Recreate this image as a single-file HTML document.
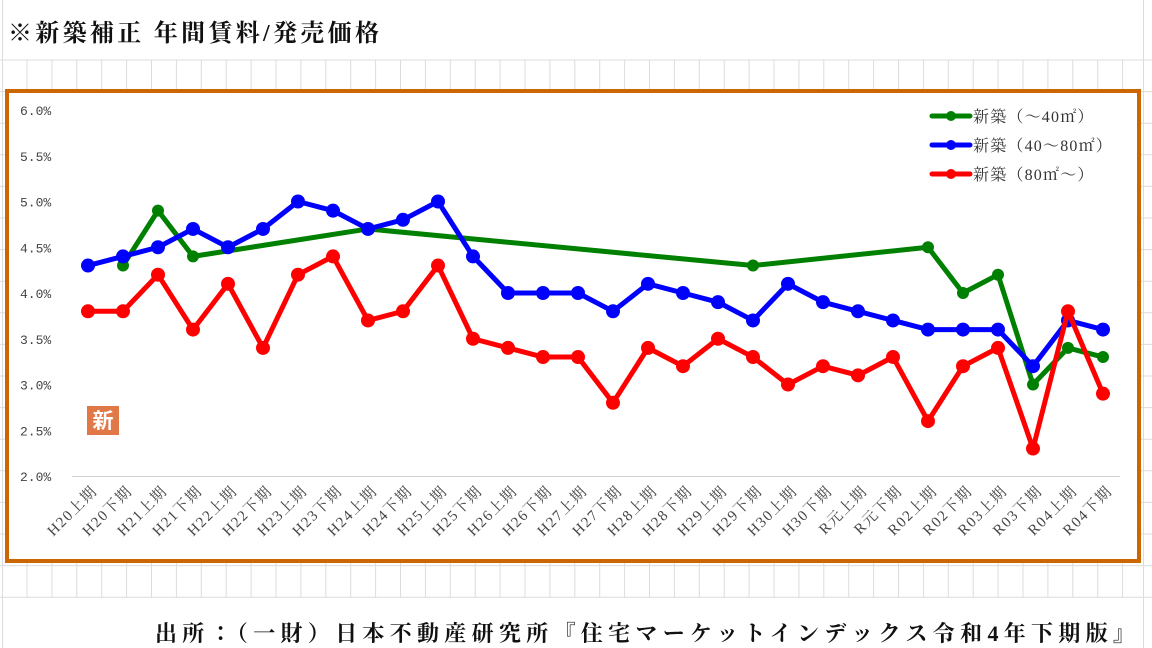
<!DOCTYPE html>
<html><head><meta charset="utf-8"><style>
body{margin:0;width:1152px;height:648px;overflow:hidden;background:#fff;position:relative;font-family:"Liberation Serif","Noto Serif CJK JP",serif}
.t{position:absolute;font-weight:bold;color:#111;white-space:nowrap}
</style></head><body>
<svg width="1152" height="648" style="position:absolute;left:0;top:0" id="s">
<g stroke="#dcdcdc" stroke-width="1" id="grid"></g>
<rect x="7" y="91" width="1132" height="470" fill="#fff" stroke="#CC6600" stroke-width="4"/>
<line x1="72" y1="476.5" x2="1120" y2="476.5" stroke="#d0d0d0" stroke-width="1"/>
<g id="ylab" font-family="Liberation Mono, monospace" font-size="13" fill="#444"></g>
<g id="xlab" font-family="Liberation Serif, Noto Serif CJK JP, serif" font-size="15" fill="#444" letter-spacing="1.5"></g>
<g id="ser"></g>
<rect x="87" y="406" width="32" height="29" fill="#E07848"/>
<text x="103" y="428" font-size="21" font-weight="bold" fill="#fff" text-anchor="middle" font-family="Noto Sans CJK JP, sans-serif">新</text>
<g font-family="Liberation Serif, Noto Serif CJK JP, serif" font-size="16" fill="#333" letter-spacing="1.2">
<line x1="932" y1="116" x2="970" y2="116" stroke="#008000" stroke-width="5" stroke-linecap="round"/><circle cx="951" cy="116" r="5" fill="#008000"/>
<text x="973" y="122">新築（～40㎡）</text>
<line x1="932" y1="145" x2="970" y2="145" stroke="#0000ff" stroke-width="5" stroke-linecap="round"/><circle cx="951" cy="145" r="5" fill="#0000ff"/>
<text x="973" y="151">新築（40～80㎡）</text>
<line x1="932" y1="174" x2="970" y2="174" stroke="#ff0000" stroke-width="5" stroke-linecap="round"/><circle cx="951" cy="174" r="5" fill="#ff0000"/>
<text x="973" y="180">新築（80㎡～）</text>
</g>
</svg>
<div class="t" style="left:8px;top:13px;font-size:24px;letter-spacing:3.3px">※新築補正 年間賃料/発売価格</div>
<div class="t" style="left:155px;top:617px;font-size:22px;letter-spacing:5.3px">出所：（一財）日本不動産研究所『住宅マーケットインデックス令和4年下期版』</div>
<script>
const NS="http://www.w3.org/2000/svg";
function el(p,n,a,t){const e=document.createElementNS(NS,n);for(const k in a)e.setAttribute(k,a[k]);if(t)e.textContent=t;p.appendChild(e);return e;}
const g=document.getElementById('grid');
for(let x=27;x<1140;x+=24.9)el(g,'line',{x1:x,y1:60,x2:x,y2:597});
el(g,'line',{x1:2.5,y1:0,x2:2.5,y2:648});
el(g,'line',{x1:1143.5,y1:0,x2:1143.5,y2:648});
for(let y=60;y<600;y+=31.6)el(g,'line',{x1:0,y1:y,x2:1152,y2:y});
const Y=v=>476-(v-2)*91.5, X=i=>88+35*i;
const yl=document.getElementById('ylab');
for(let v=2;v<=6.001;v+=0.5)el(yl,'text',{x:20,y:Y(v)+5},v.toFixed(1)+'%');
const cats=[];
const eras=['H20','H21','H22','H23','H24','H25','H26','H27','H28','H29','H30','R元','R02','R03','R04'];
eras.forEach(e=>{cats.push(e+'上期');cats.push(e+'下期');});
const xl=document.getElementById('xlab');
cats.forEach((c,i)=>el(xl,'text',{x:0,y:0,'text-anchor':'end',transform:`translate(${X(i)+10},${492}) rotate(-45)`},c));
const blue=[4.3,4.4,4.5,4.7,4.5,4.7,5.0,4.9,4.7,4.8,5.0,4.4,4.0,4.0,4.0,3.8,4.1,4.0,3.9,3.7,4.1,3.9,3.8,3.7,3.6,3.6,3.6,3.2,3.7,3.6];
const red=[3.8,3.8,4.2,3.6,4.1,3.4,4.2,4.4,3.7,3.8,4.3,3.5,3.4,3.3,3.3,2.8,3.4,3.2,3.5,3.3,3.0,3.2,3.1,3.3,2.6,3.2,3.4,2.3,3.8,2.9];
const green=[[1,4.3],[2,4.9],[3,4.4],[8,4.7],[19,4.3],[24,4.5],[25,4.0],[26,4.2],[27,3.0],[28,3.4],[29,3.3]];
const s=document.getElementById('ser');
function draw(pts,col,r){el(s,'polyline',{points:pts.map(p=>X(p[0])+','+Y(p[1])).join(' '),fill:'none',stroke:col,'stroke-width':5,'stroke-linejoin':'round'});
pts.forEach(p=>el(s,'circle',{cx:X(p[0]),cy:Y(p[1]),r:r,fill:col}));}
draw(green,'#008000',6);
draw(blue.map((v,i)=>[i,v]),'#0000ff',7);
draw(red.map((v,i)=>[i,v]),'#ff0000',7);
</script>
</body></html>
